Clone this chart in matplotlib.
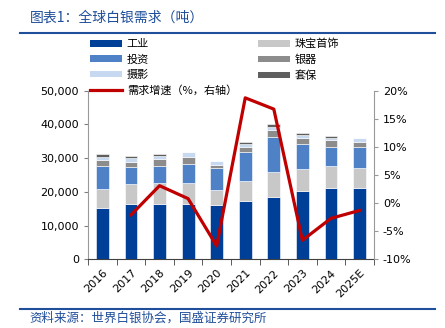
import numpy as np
import matplotlib.pyplot as plt
from matplotlib.lines import Line2D
from matplotlib.patches import Patch
from matplotlib.ticker import FuncFormatter, FixedLocator

plt.rcParams['font.family'] = ['Noto Sans CJK SC', 'DejaVu Sans']

years = ['2016', '2017', '2018', '2019', '2020', '2021', '2022', '2023', '2024', '2025E']
industrial = [15190, 16470, 16270, 16270, 15980, 17360, 18340, 20320, 21010, 21010]
jewelry = [5720, 5820, 6310, 6310, 4430, 5720, 7400, 6410, 6600, 6110]
investment = [6800, 4930, 5130, 5720, 6610, 8870, 10450, 7590, 5820, 6310]
silverware = [1580, 1770, 1970, 1880, 790, 1280, 2070, 1580, 1880, 1280]
photography = [1080, 990, 990, 1480, 1380, 890, 890, 790, 690, 1190]
hedging = [790, 690, 690, 0, 0, 590, 990, 880, 590, 0]
growth_years = years[1:]
growth = [-2.1, 3.1, 0.8, -7.6, 18.7, 16.7, -6.6, -2.7, -1.3]

series = [
    ('工业', industrial, '#003f98'),
    ('珠宝首饰', jewelry, '#c8c8c8'),
    ('投资', investment, '#4f81c7'),
    ('银器', silverware, '#8c8c8c'),
    ('摄影', photography, '#c6d9f0'),
    ('套保', hedging, '#5f5f5f'),
]

fig = plt.figure(figsize=(4.45, 3.28), dpi=100)
ax = fig.add_axes([0.198, 0.209, 0.642, 0.515])

x = np.arange(len(years))
bottom = np.zeros(len(years))
handles = {}
for name, vals, color in series:
    vals = np.array(vals, dtype=float)
    ax.bar(x, vals, 0.45, bottom=bottom, color=color, edgecolor='white', linewidth=0.4)
    handles[name] = Patch(facecolor=color, edgecolor='none')
    bottom += vals

ax.set_xlim(-0.5, len(years) - 0.5)
ax.set_ylim(0, 50000)
ax.set_yticks(np.arange(0, 50001, 10000))
ax.yaxis.set_major_formatter(FuncFormatter(lambda v, p: f'{int(v):,}'))
ax.set_xticks(x)
ax.set_xticklabels(years, rotation=45, ha='right', rotation_mode='anchor', family='DejaVu Sans')
ax.tick_params(axis='x', which='major', length=0, labelsize=8, pad=6)
ax.xaxis.set_minor_locator(FixedLocator(np.arange(-0.5, len(years), 1)))
ax.tick_params(axis='x', which='minor', length=4, color='#404040')
ax.tick_params(axis='y', labelsize=8, length=3, color='#808080')
for lab in ax.get_yticklabels():
    lab.set_family('DejaVu Sans')
ax.spines['top'].set_visible(False)
ax.spines['right'].set_visible(False)
ax.spines['left'].set_color('#999999')
ax.spines['bottom'].set_color('#404040')

ax2 = ax.twinx()
x_growth = [years.index(y) for y in growth_years]
ax2.plot(x_growth, growth, color='#c00000', linewidth=2.3)
ax2.set_ylim(-10, 20)
ax2.set_yticks(np.arange(-10, 21, 5))
ax2.yaxis.set_major_formatter(FuncFormatter(lambda v, p: f'{int(v)}%'))
ax2.tick_params(axis='y', labelsize=8, length=3, color='#999999')
for lab in ax2.get_yticklabels():
    lab.set_family('DejaVu Sans')
for s in ['top', 'left', 'bottom']:
    ax2.spines[s].set_visible(False)
ax2.spines['right'].set_color('#999999')

line_handle = Line2D([0], [0], color='#c00000', linewidth=2.3)
leg_handles = [handles['工业'], handles['投资'], handles['摄影'], line_handle,
               handles['珠宝首饰'], handles['银器'], handles['套保']]
leg_labels = ['工业', '投资', '摄影', '需求增速（%，右轴）', '珠宝首饰', '银器', '套保']
fig.legend(leg_handles, leg_labels, ncol=2, loc='upper left',
           bbox_to_anchor=(0.19, 0.899), frameon=False, fontsize=8,
           handlelength=2.9, handleheight=0.55, handletextpad=0.4,
           labelspacing=0.47, columnspacing=1.85, borderpad=0)

fig.text(0.067, 0.945, '图表1：全球白银需求（吨）', fontsize=10, color='#1f4e9a',
         style='italic', va='center')
fig.add_artist(Line2D([0.045, 0.978], [0.898, 0.898], color='#1f4e9a', linewidth=1.5))
fig.add_artist(Line2D([0.045, 0.978], [0.057, 0.057], color='#1f4e9a', linewidth=1.5))
fig.text(0.067, 0.030, '资料来源：世界白银协会，国盛证券研究所', fontsize=9,
         color='#1f4e9a', style='italic', va='center')

fig.savefig('out.png', dpi=100)
